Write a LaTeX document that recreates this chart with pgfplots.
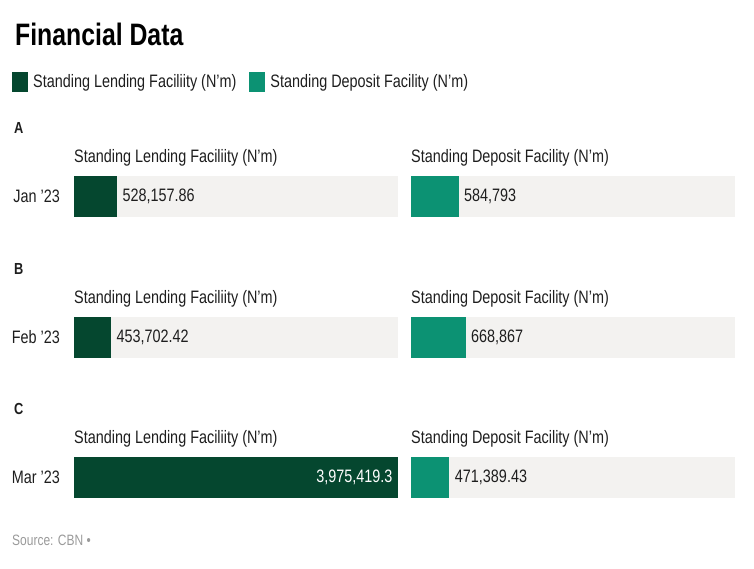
\documentclass[border=0pt]{standalone}
\usepackage{fontspec}
\setmainfont{Liberation Sans}[FakeStretch=0.80]
\usepackage{pgfplots}
\pgfplotsset{compat=1.18}
\definecolor{slf}{HTML}{05472F}
\definecolor{sdf}{HTML}{0C9273}
\definecolor{bggray}{HTML}{F3F2F0}
\definecolor{txt}{HTML}{1E1E1E}
\definecolor{srcgray}{HTML}{9A9A9A}
\newcommand{\fs}{\fontsize{18}{21}\selectfont}
\pgfplotsset{
  panel/.style={
    scale only axis, width=324pt, height=41pt, anchor=north west,
    xbar, bar width=41pt, bar shift=0pt,
    xmin=0, xmax=3975419.3, ymin=-0.5, ymax=0.5,
    axis line style={draw=none}, major tick length=0pt,
    xtick=\empty, ytick=\empty,
    axis background/.style={fill=bggray},
    font=\fs, color=txt,
    /pgf/number format/assume math mode=true,
    title style={at={(0,1)}, anchor=base west, yshift=8pt, inner sep=0pt, font=\fs, text=txt},
    yticklabel style={inner sep=0pt, xshift=-14pt, font=\fs, text=txt},
    point meta=explicit symbolic,
    nodes near coords={\pgfplotspointmeta},
    every node near coord/.append style={anchor=west, xshift=2pt, font=\fs, text=txt},
    clip=false,
  },
  sq/.style={legend image code/.code={\fill (0pt,-10pt) rectangle (16pt,10pt); \path (19pt,0pt);}},
}
\begin{document}
\begin{tikzpicture}
\useasboundingbox (0pt,0pt) rectangle (754pt,-568pt);
\node[anchor=base west, inner sep=0pt, font=\fontsize{31}{35}\selectfont\bfseries, text=black] at (15pt,-45pt) {Financial Data};
\foreach \lab/\yy in {A/128, B/269, C/409}
  \node[anchor=west, inner sep=0pt, font=\fontsize{16}{19}\selectfont\bfseries, text=txt] at (14pt,-\yy pt) {\lab};
\node[anchor=west, inner sep=0pt, font=\fontsize{15}{18}\selectfont, text=srcgray] at (12pt,-540pt) {Source: CBN •};

% Row A
\begin{axis}[panel, at={(74pt,-176pt)}, title={Standing Lending Faciliity (N'm)}, ytick={0}, yticklabels={Jan ’23},
  legend style={at={(axis description cs:-0.1914,3.293)}, anchor=west, draw=none, fill=none, inner sep=0pt,
    legend columns=2, font=\fs, text=txt,
    /tikz/every even column/.append style={column sep=11pt}},
  legend cell align=left]
\addplot[fill=slf, draw=none, sq] coordinates {(528157.86,0) [{528,157.86}]};
\addlegendentry{Standing Lending Faciliity (N'm)}
\addlegendimage{fill=sdf, draw=none, sq}
\addlegendentry{Standing Deposit Facility (N'm)}
\end{axis}
\begin{axis}[panel, at={(411pt,-176pt)}, title={Standing Deposit Facility (N'm)}]
\addplot[fill=sdf, draw=none] coordinates {(584793,0) [{584,793}]};
\end{axis}

% Row B
\begin{axis}[panel, at={(74pt,-317pt)}, title={Standing Lending Faciliity (N'm)}, ytick={0}, yticklabels={Feb ’23}]
\addplot[fill=slf, draw=none] coordinates {(453702.42,0) [{453,702.42}]};
\end{axis}
\begin{axis}[panel, at={(411pt,-317pt)}, title={Standing Deposit Facility (N'm)}]
\addplot[fill=sdf, draw=none] coordinates {(668867,0) [{668,867}]};
\end{axis}

% Row C
\begin{axis}[panel, at={(74pt,-457pt)}, title={Standing Lending Faciliity (N'm)}, ytick={0}, yticklabels={Mar ’23}]
\addplot[fill=slf, draw=none, every node near coord/.append style={anchor=east, xshift=-4pt, text=white}] coordinates {(3975419.3,0) [{3,975,419.3}]};
\end{axis}
\begin{axis}[panel, at={(411pt,-457pt)}, title={Standing Deposit Facility (N'm)}]
\addplot[fill=sdf, draw=none] coordinates {(471389.43,0) [{471,389.43}]};
\end{axis}
\end{tikzpicture}
\end{document}
